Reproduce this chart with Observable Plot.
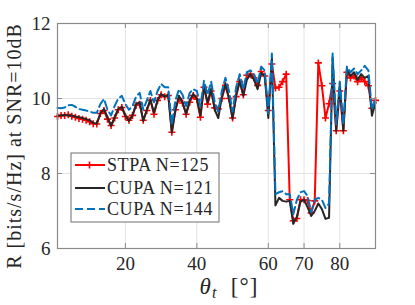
<!DOCTYPE html>
<html><head><meta charset="utf-8">
<script src="https://cdn.jsdelivr.net/npm/d3@7"></script>
<script src="https://cdn.jsdelivr.net/npm/@observablehq/plot@0.6"></script>
<style>body{margin:0;background:#fff;} #chart{width:415px;height:305px;}</style>
</head><body><div id="chart"></div>
<script>
// x positions: steering angle theta_t in degrees
const theta = d3.range(1, 91);
// STPA N=125
const stpa = [9.52,9.55,9.55,9.57,9.53,9.50,9.47,9.45,9.42,9.38,
  9.33,9.32,9.60,9.68,9.45,9.28,9.48,9.70,9.76,9.52,
  9.42,9.55,9.82,9.85,9.42,9.68,9.95,9.58,9.95,10.10,
  10.05,10.08,9.10,9.70,10.00,9.88,9.58,9.90,10.08,9.98,
  9.50,10.30,9.85,10.20,9.75,9.72,10.00,10.35,10.00,9.48,
  10.05,10.45,10.10,10.62,10.65,10.55,10.35,10.72,10.60,9.68,
  10.92,10.28,10.30,10.45,10.65,7.30,6.74,6.80,7.30,7.30,
  7.28,6.95,7.27,10.95,10.34,9.48,9.86,10.40,9.14,10.20,
  9.14,10.70,10.55,10.60,10.45,10.55,10.45,10.34,9.74,9.95];
// CUPA N=121
const cupa121 = [9.54,9.55,9.56,9.55,9.55,9.52,9.50,9.48,9.45,9.42,
  9.35,9.33,9.60,9.72,9.50,9.27,9.50,9.72,9.78,9.55,
  9.40,9.55,9.85,9.90,9.40,9.70,9.97,9.62,9.95,10.12,
  10.05,10.10,9.09,9.70,10.07,9.90,9.59,9.95,10.12,10.00,
  9.54,10.34,9.89,10.25,9.70,9.48,10.05,10.39,10.00,9.46,
  10.10,10.47,10.07,10.50,10.65,10.50,10.25,10.68,10.60,9.48,
  11.08,7.15,7.35,7.27,7.25,7.27,6.66,6.85,7.25,7.30,
  7.10,6.87,7.00,7.20,7.05,6.79,6.82,11.10,9.14,10.39,
  9.14,10.79,10.60,10.70,10.50,10.65,10.55,10.60,9.54,9.89];
// CUPA N=144
const cupa144 = [9.75,9.74,9.76,9.82,9.83,9.78,9.72,9.70,9.68,9.65,
  9.62,9.62,9.85,9.99,9.70,9.55,9.80,10.00,10.07,9.85,
  9.70,9.80,10.05,10.15,9.70,9.95,10.20,9.90,10.20,10.39,
  10.30,10.30,9.30,9.95,10.25,10.10,9.80,10.15,10.25,10.20,
  9.80,10.47,10.10,10.45,9.90,9.65,10.20,10.55,10.20,9.65,
  10.30,10.65,10.25,10.70,10.75,10.65,10.40,10.85,10.75,9.60,
  11.20,7.45,7.50,7.53,7.45,7.45,6.92,7.30,7.50,7.53,
  7.40,6.97,7.30,7.35,7.30,7.08,7.20,11.20,9.30,10.45,
  9.30,10.85,10.70,10.80,10.65,10.75,10.87,10.75,9.70,10.00];
const xTicks = [20, 40, 60, 70, 80];
const yTicks = [6, 8, 10, 12];
const seriesNames = ["STPA N=125", "CUPA N=121", "CUPA N=144"];
const colors = ["#ff0000", "#262626", "#0072bd"];

const rows = vals => theta.map((t, i) => ({t, v: vals[i]}));
const plus = {draw(ctx, size) {const r = Math.sqrt(size / Math.PI);
  ctx.moveTo(-r, 0); ctx.lineTo(r, 0); ctx.moveTo(0, -r); ctx.lineTo(0, r);}};

const W = 415, H = 305, mL = 57, mR = 40, mT = 23, mB = 57;
const fw = W - mL - mR, fh = H - mT - mB;

const plot = Plot.plot({
  width: W, height: H, marginLeft: mL, marginRight: mR, marginTop: mT, marginBottom: mB,
  style: {fontFamily: "Liberation Serif", fontSize: "19px", color: "#262626", background: "#fff"},
  x: {domain: [1, 90]},
  y: {domain: [6, 12]},
  marks: [
    Plot.gridX(xTicks, {stroke: "#e3e3e3", strokeOpacity: 1}),
    Plot.gridY(yTicks, {stroke: "#e3e3e3", strokeOpacity: 1}),
    Plot.line(rows(stpa), {x: "t", y: "v", stroke: colors[0], strokeWidth: 2}),
    Plot.dot(rows(stpa), {x: "t", y: "v", symbol: plus, r: 3.5, stroke: colors[0], strokeWidth: 1.6, fill: "none"}),
    Plot.line(rows(cupa121), {x: "t", y: "v", stroke: colors[1], strokeWidth: 2}),
    Plot.line(rows(cupa144), {x: "t", y: "v", stroke: colors[2], strokeWidth: 2, strokeDasharray: "8,4"}),
    Plot.frame({stroke: "#8a8a8a", strokeWidth: 1.2}),
    Plot.tickX(xTicks, {x: d => d, stroke: "#8a8a8a", insetTop: fh - 5}),
    Plot.tickX(xTicks, {x: d => d, stroke: "#8a8a8a", insetBottom: fh - 5}),
    Plot.tickY(yTicks, {y: d => d, stroke: "#8a8a8a", insetRight: fw - 5}),
    Plot.tickY(yTicks, {y: d => d, stroke: "#8a8a8a", insetLeft: fw - 5}),
    Plot.axisX(xTicks, {anchor: "bottom", tickSize: 0, tickPadding: 8, label: null, fill: "#262626"}),
    Plot.axisY(yTicks, {anchor: "left", tickSize: 0, tickPadding: 7, label: null, fill: "#262626"})
  ]
});
document.getElementById("chart").appendChild(plot);

const svg = d3.select(plot);
// y label
svg.append("text")
  .attr("transform", "translate(14,146) rotate(-90)")
  .attr("text-anchor", "middle").attr("dominant-baseline", "central")
  .attr("font-family", "Liberation Serif").attr("font-size", 20).attr("letter-spacing", 1)
  .attr("fill", "#262626")
  .text("R [bits/s/Hz] at SNR=10dB");
// x label
const xl = svg.append("text").attr("x", 229).attr("y", 294).attr("text-anchor", "middle")
  .attr("font-family", "Liberation Serif").attr("font-size", 23).attr("fill", "#262626")
  .attr("letter-spacing", 1);
xl.append("tspan").attr("font-style", "italic").text("θ");
xl.append("tspan").attr("font-style", "italic").attr("font-size", 16).attr("dy", 4).text("t");
xl.append("tspan").attr("dy", -4).text("  [°]");

// legend
const lg = svg.append("g").attr("transform", "translate(71,153)");
lg.append("rect").attr("width", 148).attr("height", 69).attr("fill", "#fff").attr("stroke", "#6f6f6f");
const ly = [12, 35, 56];
seriesNames.forEach((name, i) => {
  lg.append("line").attr("x1", 4).attr("x2", 34).attr("y1", ly[i]).attr("y2", ly[i])
    .attr("stroke", colors[i]).attr("stroke-width", 2)
    .attr("stroke-dasharray", i === 2 ? "8,4" : null);
  if (i === 0) lg.append("path").attr("d", `M15,${ly[i]}h7M18.5,${ly[i]-3.5}v7`).attr("stroke", colors[0]).attr("stroke-width", 1.6);
  lg.append("text").attr("x", 36).attr("y", ly[i]).attr("dominant-baseline", "central")
    .attr("text-anchor", "start")
    .attr("font-family", "Liberation Serif").attr("font-size", 18).attr("letter-spacing", 0.6)
    .attr("fill", "#262626").text(name);
});
</script>
</body></html>
